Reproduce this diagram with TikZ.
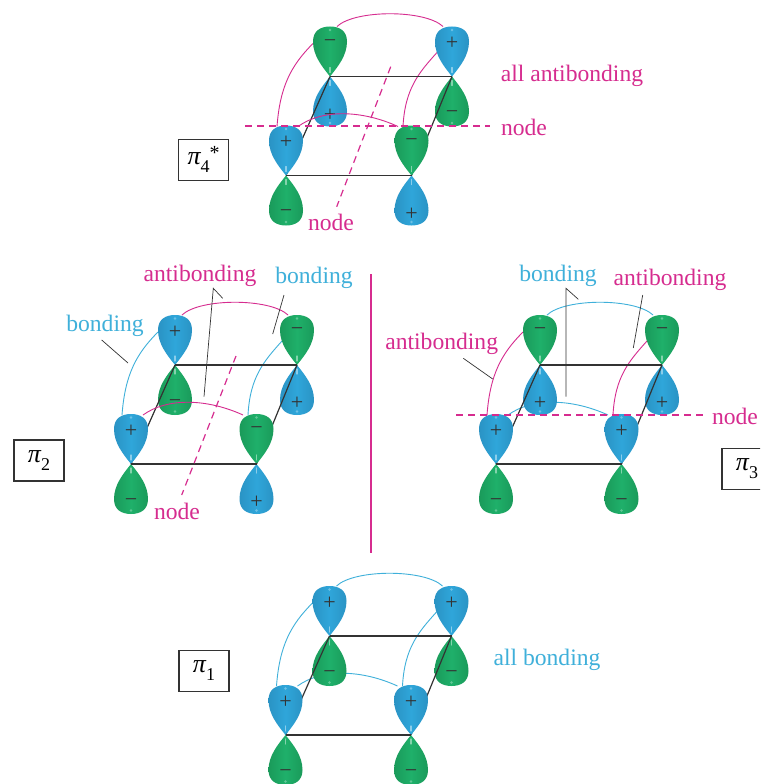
\documentclass[tikz,border=0pt]{standalone}
\usepackage{fontspec}
\setmainfont{Liberation Serif}
\definecolor{pinkc}{HTML}{D62C8F}
\definecolor{cyanc}{HTML}{3FB0DA}
\definecolor{blueL}{HTML}{2FA6DA}
\definecolor{blueD}{HTML}{2A93C4}
\definecolor{greenL}{HTML}{1FB06A}
\definecolor{greenD}{HTML}{1A9A5A}
\definecolor{inkc}{HTML}{333333}
\tikzset{
  bondline/.style={draw=inkc,line width=1.2pt},
  arcline/.style={line width=0.9pt},
  leader/.style={draw=inkc,line width=0.7pt},
  nodeline/.style={draw=pinkc,line width=1.2pt,dash pattern=on 7pt off 5pt},
  lab/.style={inner sep=0pt,font=\fontsize{23.6}{24}\selectfont},
  pinklab/.style={lab,text=pinkc},
  cyanlab/.style={lab,text=cyanc},
  sgn/.style={inner sep=0pt,text=inkc,font=\fontsize{22}{22}\selectfont},
  statebox/.style={draw=inkc,line width=1.1pt,fill=white,minimum width=50pt,minimum height=41pt,inner sep=0pt,font=\fontsize{26}{26}\selectfont},
  bluelobe/.style={left color=blueD,right color=blueD,middle color=blueL,shading angle=90},
  greenlobe/.style={left color=greenD,right color=greenD,middle color=greenL,shading angle=90}
}
\newcommand{\lobeshape}{(0,0) .. controls (-8,-10) and (-17,-21) .. (-17,-35) .. controls (-17,-46) and (-9,-50) .. (0,-50) .. controls (9,-50) and (17,-46) .. (17,-35) .. controls (17,-21) and (8,-10) .. (0,0) -- cycle}
\newcommand{\upperlobe}[3]{%
  \begin{scope}[shift={(#1)}]
    \shade[#2] \lobeshape;
    \draw[white,opacity=.45,line width=1.2pt,line cap=round] (0,-4) -- (0,-9);
    \fill[white,opacity=.3] (0,-46.5) circle (1.3pt);
  \end{scope}
  \node[sgn] (#1-s) at ([yshift=33pt]#1) {#3};
}
\newcommand{\lowerlobe}[3]{%
  \begin{scope}[shift={(#1)},yscale=-1]
    \shade[#2] \lobeshape;
    \draw[white,opacity=.45,line width=1.2pt,line cap=round] (0,-4) -- (0,-9);
    \fill[white,opacity=.3] (0,-46.5) circle (1.3pt);
  \end{scope}
  \node[sgn] (#1-t) at ([yshift=-38.5pt]#1) {#3};
}
\newcommand{\orbital}[2]{%
  \if#2p
    \upperlobe{#1}{bluelobe}{+}%
    \lowerlobe{#1}{greenlobe}{−}%
  \else
    \upperlobe{#1}{greenlobe}{−}%
    \lowerlobe{#1}{bluelobe}{+}%
  \fi
}
\newif\ifarcover
\newcommand{\molecule}[8]{%
  \coordinate (#1bl) at (#2);
  \coordinate (#1br) at ([shift={(122,0)}]#1bl);
  \coordinate (#1fl) at ([shift={(-44,99)}]#1bl);
  \coordinate (#1fr) at ([shift={(81.5,99)}]#1bl);
  \coordinate (#1a) at ([shift={(7,-50)}]#1bl);
  \coordinate (#1b) at ([shift={(113,-50)}]#1bl);
  \coordinate (#1c) at ([shift={(-53,50)}]#1bl);
  \coordinate (#1d) at ([shift={(-17,-33)}]#1bl);
  \coordinate (#1e) at ([shift={(73,50)}]#1bl);
  \coordinate (#1f) at ([shift={(107,-24)}]#1bl);
  \coordinate (#1g) at ([shift={(-32,50)}]#1bl);
  \coordinate (#1h) at ([shift={(68,50)}]#1bl);
  \draw[arcline,#3] (#1a) .. controls +(18,-17) and +(-18,-17) .. (#1b);
  \draw[arcline,#4] (#1c) .. controls +(3,-40) and +(-22,22) .. (#1d);
  \draw[arcline,#4] (#1e) .. controls +(2,-38) and +(-18,20) .. (#1f);
  \ifarcover\else\draw[arcline,#3] (#1g) .. controls +(25,-18) and +(-35,-16) .. (#1h);\fi
  \orbital{#1bl}{#5}
  \orbital{#1br}{#6}
  \draw[bondline] (#1bl) -- (#1br);
  \draw[bondline] (#1bl) -- (#1fl);
  \draw[bondline] (#1br) -- (#1fr);
  \ifarcover\draw[arcline,#3] (#1g) .. controls +(25,-18) and +(-35,-16) .. (#1h);\fi
  \orbital{#1fl}{#7}
  \orbital{#1fr}{#8}
  \draw[bondline] (#1fl) -- (#1fr);
}
\newcommand{\statelabel}[1]{\itshape π\raisebox{-8pt}{\fontsize{18}{18}\selectfont\upshape #1}}
\begin{document}
\begin{tikzpicture}[x=1pt,y=-1pt]
\useasboundingbox (0,0) rectangle (760,784);
\clip (0,0) rectangle (760,784);
\fill[white] (0,0) rectangle (760,784);

% pi4*
\arcovertrue
\molecule{da}{330,76.5}{pinkc}{pinkc}{m}{p}{p}{m}
\coordinate (dn1) at (245,126); \coordinate (dn2) at (490,126);
\coordinate (dn3) at (390.7,66.7); \coordinate (dn4) at (336.7,206.7);
\draw[nodeline] (dn1) -- (dn2);
\draw[nodeline] (dn3) -- (dn4);
\node[pinklab] (dl1) at (572,76) {all antibonding};
\node[pinklab] (dl2) at (524,127) {node};
\node[pinklab] (dl3) at (331,222) {node};
\node[statebox] (dbox) at (203.7,159.8) {\statelabel{4}\raisebox{5pt}{\fontsize{20}{20}\selectfont\upshape *}};

% pi2
\arcovertrue
\molecule{ca}{175,365}{pinkc}{cyanc}{p}{m}{p}{m}
\coordinate (cn1) at (236,356); \coordinate (cn2) at (181.7,495);
\draw[nodeline] (cn1) -- (cn2);
\node[pinklab] (cl1) at (200,276) {antibonding};
\node[cyanlab] (cl2) at (314,278) {bonding};
\node[cyanlab] (cl3) at (105,326) {bonding};
\node[pinklab] (cl4) at (177,511) {node};
\node[statebox] (cbox) at (39,460.5) {\statelabel{2}};
\coordinate (cp1) at (101.7,340); \coordinate (cp2) at (128,363);
\coordinate (cp3) at (284,295); \coordinate (cp4) at (272.7,334);
\coordinate (cp5) at (222.7,298.3); \coordinate (cp6) at (213.3,288.3); \coordinate (cp7) at (204,396.7);
\draw[leader] (cp1) -- (cp2);
\draw[leader] (cp3) -- (cp4);
\draw[leader] (cp5) -- (cp6) -- (cp7);

% pi3
\arcoverfalse
\molecule{ba}{540,365}{cyanc}{pinkc}{m}{m}{p}{p}
\coordinate (bn1) at (456,415); \coordinate (bn2) at (702.7,415);
\draw[nodeline] (bn1) -- (bn2);
\node[cyanlab] (bl1) at (558,276) {bonding};
\node[pinklab] (bl2) at (670,280) {antibonding};
\node[pinklab] (bl3) at (441.7,344) {antibonding};
\node[pinklab] (bl4) at (735,416.7) {node};
\node[statebox] (bbox) at (747,469) {\statelabel{3}};
\coordinate (bp1) at (463.3,358.3); \coordinate (bp2) at (492.7,379);
\coordinate (bp3) at (578.3,299.3); \coordinate (bp4) at (566,288.3); \coordinate (bp5) at (566,396.7);
\coordinate (bp6) at (642.7,295); \coordinate (bp7) at (633.3,348);
\draw[leader] (bp1) -- (bp2);
\draw[leader] (bp3) -- (bp4) -- (bp5);
\draw[leader] (bp6) -- (bp7);

% divider
\coordinate (v1) at (371,274); \coordinate (v2) at (371,553);
\draw[draw=pinkc,line width=1.2pt] (v1) -- (v2);

% pi1
\arcoverfalse
\molecule{aa}{329.5,636}{cyanc}{cyanc}{p}{p}{p}{p}
\node[cyanlab] (al1) at (547,660) {all bonding};
\node[statebox] (abox) at (204,671) {\statelabel{1}};
\end{tikzpicture}
\end{document}
